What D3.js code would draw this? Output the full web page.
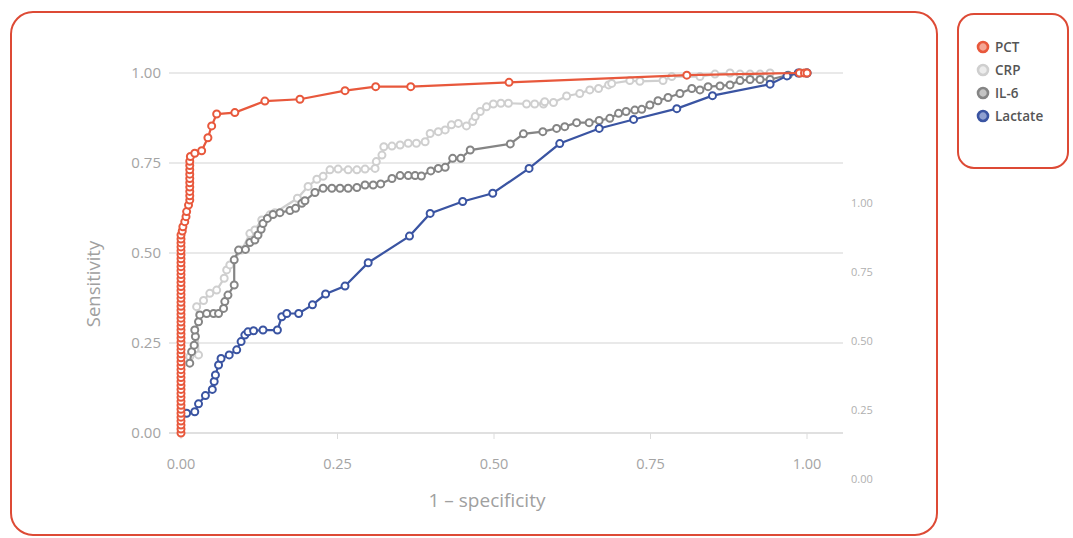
<!DOCTYPE html>
<html>
<head>
<meta charset="utf-8">
<script src="https://cdn.jsdelivr.net/npm/d3@7"></script>
<style>
  body { margin: 0; background: #fff; }
  text { font-family: "Open Sans", "Noto Sans", sans-serif; }
</style>
</head>
<body>
<div id="roc"></div>
<script>
var width = 1073,
  height = 538;

// series names and colours, drawn in this order (PCT on top)
var seriesNames = [ "PCT", "CRP", "IL-6", "Lactate" ];
var drawOrder = [ "CRP", "IL-6", "Lactate", "PCT" ];
var colors = { "PCT": "#e8583c", "CRP": "#cfcfcf", "IL-6": "#858585", "Lactate": "#3a54a2" };
var legendFill = { "PCT": "#f4a594", "CRP": "#ececec", "IL-6": "#c4c4c4", "Lactate": "#8e9fd0" };

var xTicks = [ 0, 0.25, 0.5, 0.75, 1 ];
var yTicks = [ 0, 0.25, 0.5, 0.75, 1 ];
var rightTicks = [ 0, 0.25, 0.5, 0.75, 1 ];

// [1 - specificity, sensitivity]
var pct = [
  [0,0],[0,0.011],[0,0.022],[0,0.033],[0,0.044],[0,0.055],[0,0.066],[0,0.077],[0,0.088],[0,0.099],
  [0,0.11],[0,0.121],[0,0.132],[0,0.143],[0,0.154],[0,0.165],[0,0.176],[0,0.187],[0,0.198],[0,0.209],
  [0,0.22],[0,0.231],[0,0.242],[0,0.253],[0,0.264],[0,0.275],[0,0.286],[0,0.297],[0,0.308],[0,0.319],
  [0,0.33],[0,0.341],[0,0.352],[0,0.363],[0,0.374],[0,0.385],[0,0.396],[0,0.407],[0,0.418],[0,0.429],
  [0,0.44],[0,0.451],[0,0.462],[0,0.473],[0,0.484],[0,0.495],[0,0.506],[0,0.517],[0,0.528],[0,0.539],
  [0,0.55],[0.002,0.561],[0.003,0.573],[0.006,0.587],[0.008,0.601],[0.009,0.615],[0.012,0.633],
  [0.014,0.647],[0.014,0.659],[0.014,0.671],[0.014,0.683],[0.014,0.695],[0.014,0.707],[0.014,0.719],
  [0.014,0.731],[0.014,0.743],[0.014,0.755],[0.015,0.768],[0.022,0.777],[0.033,0.784],[0.043,0.82],
  [0.049,0.853],[0.057,0.886],[0.086,0.89],[0.134,0.922],[0.19,0.927],[0.262,0.951],[0.311,0.962],
  [0.367,0.962],[0.524,0.974],[0.808,0.994],[0.988,1],[0.996,1],[1,1]
];

var crp = [
  [0.014,0.212],[0.028,0.217],[0.025,0.351],[0.036,0.368],[0.046,0.388],[0.057,0.397],[0.069,0.43],
  [0.073,0.453],[0.078,0.467],[0.097,0.508],[0.11,0.554],[0.118,0.564],[0.129,0.592],[0.142,0.606],
  [0.15,0.612],[0.186,0.652],[0.203,0.685],[0.217,0.705],[0.227,0.713],[0.238,0.731],[0.251,0.733],
  [0.267,0.731],[0.281,0.731],[0.294,0.733],[0.31,0.735],[0.312,0.754],[0.321,0.772],[0.324,0.795],
  [0.337,0.797],[0.35,0.8],[0.363,0.805],[0.376,0.805],[0.39,0.809],[0.398,0.832],[0.411,0.837],
  [0.422,0.842],[0.432,0.856],[0.443,0.86],[0.456,0.853],[0.466,0.865],[0.47,0.879],[0.478,0.893],
  [0.488,0.906],[0.499,0.914],[0.511,0.916],[0.523,0.916],[0.552,0.914],[0.565,0.914],[0.579,0.914],
  [0.581,0.92],[0.595,0.918],[0.616,0.936],[0.637,0.943],[0.653,0.953],[0.667,0.957],[0.683,0.967],
  [0.688,0.971],[0.717,0.979],[0.733,0.977],[0.77,0.979],[0.784,0.99],[0.829,0.99],[0.853,0.997],
  [0.877,1],[0.893,0.997],[0.909,0.997],[0.925,0.997],[0.941,1],[1,1]
];

var il6 = [
  [0.014,0.194],[0.017,0.226],[0.021,0.244],[0.023,0.268],[0.022,0.286],[0.028,0.309],[0.03,0.328],
  [0.041,0.332],[0.052,0.332],[0.06,0.332],[0.068,0.346],[0.07,0.365],[0.075,0.383],[0.085,0.411],
  [0.085,0.481],[0.092,0.508],[0.103,0.51],[0.11,0.529],[0.118,0.536],[0.123,0.55],[0.128,0.566],
  [0.131,0.582],[0.138,0.596],[0.147,0.607],[0.158,0.612],[0.174,0.618],[0.183,0.624],[0.193,0.638],
  [0.198,0.645],[0.214,0.668],[0.227,0.68],[0.241,0.68],[0.254,0.68],[0.267,0.68],[0.281,0.682],
  [0.294,0.689],[0.307,0.689],[0.319,0.692],[0.337,0.707],[0.35,0.715],[0.363,0.715],[0.374,0.715],
  [0.384,0.714],[0.399,0.728],[0.411,0.735],[0.422,0.738],[0.434,0.763],[0.447,0.763],[0.462,0.786],
  [0.526,0.803],[0.547,0.831],[0.578,0.837],[0.6,0.846],[0.613,0.851],[0.632,0.862],[0.652,0.862],
  [0.668,0.868],[0.685,0.874],[0.699,0.888],[0.711,0.893],[0.725,0.897],[0.736,0.899],[0.749,0.911],
  [0.762,0.923],[0.778,0.932],[0.797,0.943],[0.816,0.957],[0.829,0.953],[0.842,0.962],[0.861,0.964],
  [0.877,0.967],[0.893,0.979],[0.909,0.982],[0.925,0.982],[0.941,0.982],[0.97,0.994],[0.989,1],[1,1]
];

var lactate = [
  [0.009,0.055],[0.022,0.059],[0.028,0.081],[0.039,0.104],[0.05,0.121],[0.053,0.143],[0.055,0.161],
  [0.06,0.189],[0.064,0.207],[0.077,0.217],[0.089,0.231],[0.096,0.254],[0.102,0.272],[0.107,0.281],
  [0.116,0.284],[0.131,0.286],[0.154,0.286],[0.161,0.323],[0.169,0.332],[0.188,0.332],[0.21,0.356],
  [0.231,0.386],[0.262,0.408],[0.299,0.473],[0.365,0.547],[0.398,0.61],[0.45,0.643],[0.498,0.666],
  [0.556,0.735],[0.605,0.804],[0.668,0.846],[0.723,0.871],[0.792,0.901],[0.849,0.937],[0.941,0.969],
  [0.968,0.992],[0.986,1],[1,1]
];

var data = { "PCT": pct, "CRP": crp, "IL-6": il6, "Lactate": lactate };

var svg = d3.select( "#roc" )
  .append( "svg" )
  .attr( "width", width )
  .attr( "height", height );

// panels
svg.append( "rect" )
  .attr( "x", 11 ).attr( "y", 12 )
  .attr( "width", 926 ).attr( "height", 523 )
  .attr( "rx", 22 )
  .attr( "fill", "#fff" )
  .attr( "stroke", "#dd4a35" )
  .attr( "stroke-width", 2 );

svg.append( "rect" )
  .attr( "x", 958 ).attr( "y", 14 )
  .attr( "width", 110 ).attr( "height", 154 )
  .attr( "rx", 16 )
  .attr( "fill", "#fff" )
  .attr( "stroke", "#dd4a35" )
  .attr( "stroke-width", 2 );

var x = d3.scaleLinear().domain( [0, 1] ).range( [181, 807] );
var y = d3.scaleLinear().domain( [0, 1] ).range( [433, 73] );
var yRight = d3.scaleLinear().domain( [0, 1] ).range( [479, 203] );

// grid
svg.append( "g" )
  .selectAll( "line" )
  .data( yTicks )
  .enter()
  .append( "line" )
  .attr( "x1", 169 ).attr( "x2", 843 )
  .attr( "y1", function(d){ return y(d); } )
  .attr( "y2", function(d){ return y(d); } )
  .attr( "stroke", function(d){ return d == 0 ? "#d6d6d6" : "#e2e2e2"; } )
  .attr( "stroke-width", 1.5 );

// x ticks
svg.append( "g" )
  .selectAll( "line" )
  .data( xTicks )
  .enter()
  .append( "line" )
  .attr( "x1", function(d){ return x(d); } )
  .attr( "x2", function(d){ return x(d); } )
  .attr( "y1", 433 ).attr( "y2", 439 )
  .attr( "stroke", "#dcdcdc" )
  .attr( "stroke-width", 1 );

svg.append( "g" )
  .selectAll( "text" )
  .data( xTicks )
  .enter()
  .append( "text" )
  .attr( "x", function(d){ return x(d); } )
  .attr( "y", 469 )
  .attr( "text-anchor", "middle" )
  .attr( "fill", "#a4a4a4" )
  .attr( "font-size", 14.5 )
  .text( function(d){ return d3.format( ".2f" )(d); } );

svg.append( "g" )
  .selectAll( "text" )
  .data( yTicks )
  .enter()
  .append( "text" )
  .attr( "x", 161 )
  .attr( "y", function(d){ return y(d) + 5; } )
  .attr( "text-anchor", "end" )
  .attr( "fill", "#a4a4a4" )
  .attr( "font-size", 15 )
  .text( function(d){ return d3.format( ".2f" )(d); } );

svg.append( "g" )
  .selectAll( "text" )
  .data( rightTicks )
  .enter()
  .append( "text" )
  .attr( "x", 851 )
  .attr( "y", function(d){ return yRight(d) + 4; } )
  .attr( "fill", "#b0b0b0" )
  .attr( "font-size", 11 )
  .text( function(d){ return d3.format( ".2f" )(d); } );

svg.append( "text" )
  .attr( "x", 487 ).attr( "y", 507 )
  .attr( "text-anchor", "middle" )
  .attr( "fill", "#a0a0a0" )
  .attr( "font-size", 19 )
  .text( "1 \u2013 specificity" );

svg.append( "text" )
  .attr( "transform", "translate(100,284) rotate(-90)" )
  .attr( "text-anchor", "middle" )
  .attr( "fill", "#a0a0a0" )
  .attr( "font-size", 18.5 )
  .text( "Sensitivity" );

var line = d3.line()
  .x( function(d){ return x(d[0]); } )
  .y( function(d){ return y(d[1]); } );

drawOrder.forEach( function(name){
  var g = svg.append( "g" );
  g.append( "path" )
    .attr( "d", line( data[name] ) )
    .attr( "fill", "none" )
    .attr( "stroke", colors[name] )
    .attr( "stroke-width", 2.2 );
  g.selectAll( "circle" )
    .data( data[name] )
    .enter()
    .append( "circle" )
    .attr( "cx", function(d){ return x(d[0]); } )
    .attr( "cy", function(d){ return y(d[1]); } )
    .attr( "r", 3.5 )
    .attr( "fill", "#fff" )
    .attr( "stroke", colors[name] )
    .attr( "stroke-width", 2 );
});

// legend
var legend = svg.append( "g" )
  .selectAll( "g" )
  .data( seriesNames )
  .enter()
  .append( "g" )
  .attr( "transform", function(d, i){ return "translate(983," + (47 + i * 23) + ")"; } );

legend.append( "circle" )
  .attr( "r", 5 )
  .attr( "fill", function(d){ return legendFill[d]; } )
  .attr( "stroke", function(d){ return colors[d]; } )
  .attr( "stroke-width", 2.6 );

legend.append( "text" )
  .attr( "x", 12 ).attr( "y", 5 )
  .attr( "fill", "#555" )
  .attr( "font-size", 13.5 )
  .attr( "font-weight", 600 )
  .text( function(d){ return d; } );
</script>
</body>
</html>
